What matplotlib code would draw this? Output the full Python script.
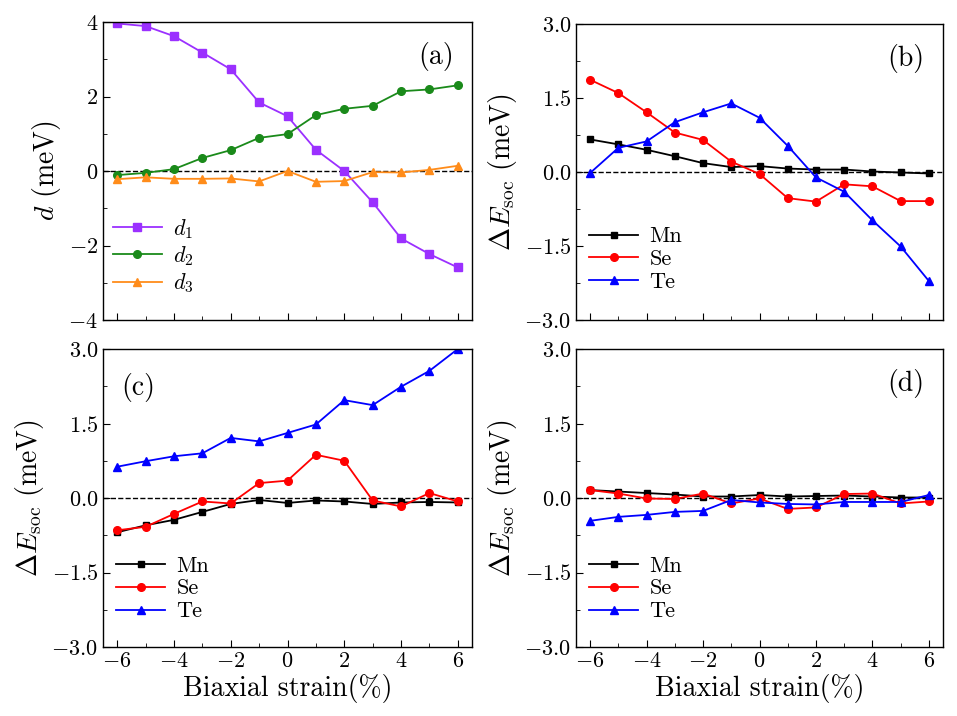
import numpy as np
import matplotlib
matplotlib.use("Agg")
import matplotlib.pyplot as plt
from matplotlib.ticker import MultipleLocator, FuncFormatter

plt.rcParams["font.family"] = "serif"
plt.rcParams["font.serif"] = ["cmr10", "DejaVu Serif"]
plt.rcParams["mathtext.fontset"] = "cm"
plt.rcParams["axes.formatter.use_mathtext"] = True

strain = [-6, -5, -4, -3, -2, -1, 0, 1, 2, 3, 4, 5, 6]

# (a) DMI components
d1 = [3.96, 3.89, 3.62, 3.18, 2.73, 1.84, 1.47, 0.57, 0.0, -0.84, -1.81, -2.23, -2.59]
d2 = [-0.11, -0.05, 0.05, 0.35, 0.56, 0.89, 0.99, 1.50, 1.67, 1.75, 2.14, 2.19, 2.30]
d3 = [-0.22, -0.17, -0.21, -0.21, -0.20, -0.28, 0.0, -0.29, -0.27, -0.03, -0.04, 0.03, 0.14]

# (b) SOC energy contributions
b_mn = [0.66, 0.56, 0.45, 0.32, 0.18, 0.10, 0.12, 0.07, 0.05, 0.05, 0.01, -0.01, -0.03]
b_se = [1.87, 1.60, 1.21, 0.80, 0.65, 0.21, -0.04, -0.53, -0.60, -0.25, -0.29, -0.59, -0.59]
b_te = [-0.02, 0.49, 0.62, 1.01, 1.21, 1.39, 1.10, 0.53, -0.11, -0.40, -0.98, -1.51, -2.21]

# (c)
c_mn = [-0.69, -0.55, -0.44, -0.28, -0.12, -0.04, -0.10, -0.05, -0.07, -0.12, -0.09, -0.08, -0.09]
c_se = [-0.65, -0.58, -0.32, -0.07, -0.11, 0.30, 0.35, 0.87, 0.75, -0.05, -0.17, 0.10, -0.07]
c_te = [0.63, 0.74, 0.84, 0.90, 1.21, 1.14, 1.31, 1.48, 1.97, 1.87, 2.24, 2.56, 3.0]

# (d)
d_mn = [0.16, 0.13, 0.10, 0.07, 0.03, 0.03, 0.06, 0.03, 0.04, 0.05, 0.03, 0.01, 0.01]
d_se = [0.16, 0.09, -0.01, -0.02, 0.09, -0.11, -0.01, -0.22, -0.19, 0.08, 0.09, -0.11, -0.07]
d_te = [-0.46, -0.38, -0.34, -0.28, -0.26, -0.04, -0.09, -0.12, -0.13, -0.08, -0.08, -0.08, 0.06]

xticks = [-6, -4, -2, 0, 2, 4, 6]
yticks_d = [-4, -2, 0, 2, 4]
yticks_e = [-3.0, -1.5, 0.0, 1.5, 3.0]

fig = plt.figure(figsize=(9.57, 7.16), dpi=100)
W, H = 957, 716


def make_ax(x0, x1, y0, y1):
    return fig.add_axes([x0 / W, 1 - y1 / H, (x1 - x0) / W, (y1 - y0) / H])


ax_a = make_ax(103, 472, 22, 320)
ax_b = make_ax(576, 943, 24, 320)
ax_c = make_ax(103, 472, 349, 647)
ax_d = make_ax(576, 943, 349, 647)

ms = 5.5
lw = 1.3


def style(ax, yticks, minor, fmt, xlabels):
    ax.set_xlim(-6.5, 6.5)
    ax.set_ylim(yticks[0], yticks[-1])
    ax.set_xticks(xticks)
    ax.xaxis.set_minor_locator(MultipleLocator(1))
    ax.set_yticks(yticks)
    ax.yaxis.set_minor_locator(MultipleLocator(minor))
    ax.yaxis.set_major_formatter(FuncFormatter(lambda v, p: "$" + fmt % v + "$"))
    ax.xaxis.set_major_formatter(FuncFormatter(lambda v, p: "$%d$" % v))
    ax.tick_params(which="both", direction="in", top=False, right=False, labelsize=16)
    ax.tick_params(which="major", length=5)
    ax.tick_params(which="minor", length=3)
    if not xlabels:
        ax.tick_params(axis="x", labelbottom=False)
    else:
        ax.set_xlabel("Biaxial strain(%)", fontsize=20, labelpad=2)
    ax.axhline(0, color="black", ls="--", lw=1.0, zorder=1)
    for s in ax.spines.values():
        s.set_linewidth(1.0)


# panel (a)
ax_a.plot(strain, d1, "-s", color="#9b30ff", ms=ms, lw=lw, label=r"$d_1$")
ax_a.plot(strain, d2, "-o", color="#1a8a1a", ms=ms, lw=lw, label=r"$d_2$")
ax_a.plot(strain, d3, "-^", color="#ff8c1a", ms=ms, lw=lw, label=r"$d_3$")
style(ax_a, yticks_d, 1, "%d", False)
ax_a.set_ylabel(r"$d$ (meV)", fontsize=20)
ax_a.legend(loc="upper left", bbox_to_anchor=(-0.01, 0.39), frameon=False,
            fontsize=16, handlelength=2.2, labelspacing=0.15, borderaxespad=0.2,
            handletextpad=0.5)
ax_a.text(0.95, 0.885, "(a)", transform=ax_a.transAxes, ha="right", va="center", fontsize=20)

# panels (b)-(d)
panels = [
    (ax_b, b_mn, b_se, b_te, "(b)", (0.95, 0.885), False, (0.0, 0.36)),
    (ax_c, c_mn, c_se, c_te, "(c)", (0.05, 0.87), True, (0.0, 0.35)),
    (ax_d, d_mn, d_se, d_te, "(d)", (0.95, 0.885), True, (0.0, 0.35)),
]
for ax, mn, se, te, tag, pos, xl, lpos in panels:
    ax.plot(strain, mn, "-s", color="black", ms=ms - 0.5, lw=lw, label="Mn")
    ax.plot(strain, se, "-o", color="#ff0000", ms=ms, lw=lw, label="Se")
    ax.plot(strain, te, "-^", color="#0000ff", ms=ms, lw=lw, label="Te")
    style(ax, yticks_e, 0.75, "%.1f", xl)
    ax.set_ylabel(r"$\Delta E_{\rm soc}$ (meV)", fontsize=20)
    ax.legend(loc="upper left", bbox_to_anchor=lpos, frameon=False,
              fontsize=16, handlelength=2.2, labelspacing=0.15, borderaxespad=0.2,
              handletextpad=0.5)
    ax.text(pos[0], pos[1], tag, transform=ax.transAxes,
            ha="right" if pos[0] > 0.5 else "left", va="center", fontsize=20)

fig.savefig("out.png", dpi=100)
